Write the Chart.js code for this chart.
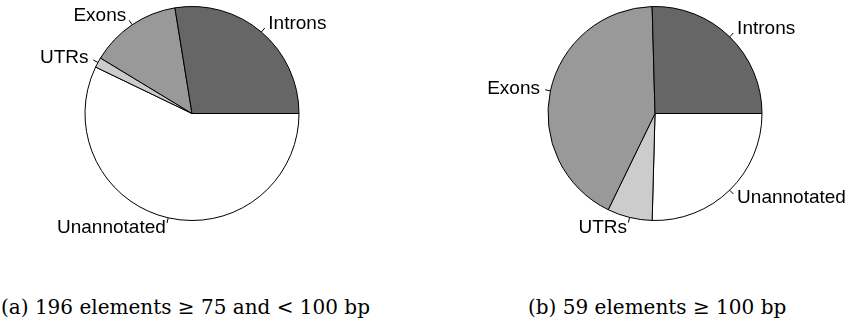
<!DOCTYPE html>
<html>
<head>
<meta charset="utf-8">
<script src="https://cdn.jsdelivr.net/npm/chart.js@4"></script>
<style>
  html, body { margin: 0; padding: 0; background: #fff; }
  body { position: relative; width: 848px; height: 324px; overflow: hidden; }
  canvas { position: absolute; top: 0; }
  #pie-a { left: 0; }
  #pie-b { left: 463px; }
  .caption {
    position: absolute;
    top: 294px;
    font-family: "DejaVu Serif", serif;
    font-size: 20px;
    line-height: 26px;
    white-space: nowrap;
    color: #000;
  }
  #cap-a { left: 1px; }
  #cap-b { left: 528px; }
</style>
</head>
<body>
<canvas id="pie-a" width="384" height="262"></canvas>
<canvas id="pie-b" width="384" height="262"></canvas>
<div class="caption" id="cap-a">(a) 196 elements ≥ 75 and &lt; 100 bp</div>
<div class="caption" id="cap-b">(b) 59 elements ≥ 100 bp</div>
<script>
// element classes, counter-clockwise from 3 o'clock
const categories = ["Introns", "Exons", "UTRs", "Unannotated"];
const sliceColors = ["#666666", "#999999", "#cccccc", "#ffffff"];

// element counts per class
const countsShort = [54, 27, 3, 112]; // 196 elements >= 75 and < 100 bp
const countsLong = [15, 25, 4, 15]; // 59 elements >= 100 bp

// labels outside each slice with a small tick, like R's pie()
const pieLabels = {
  id: "pieLabels",
  afterDatasetsDraw(chart) {
    const ctx = chart.ctx;
    const arcs = chart.getDatasetMeta(0).data;
    ctx.save();
    ctx.font = '19px "Liberation Sans", Arial, sans-serif';
    ctx.fillStyle = "#000";
    ctx.strokeStyle = "#000";
    ctx.lineWidth = 1;
    ctx.textBaseline = "middle";
    arcs.forEach((arc, i) => {
      const { x, y, startAngle, endAngle, outerRadius } = arc.getProps(
        ["x", "y", "startAngle", "endAngle", "outerRadius"],
        true
      );
      const mid = (startAngle + endAngle) / 2;
      const cos = Math.cos(mid);
      const sin = Math.sin(mid);
      ctx.beginPath();
      ctx.moveTo(x + outerRadius * cos, y + outerRadius * sin);
      ctx.lineTo(x + outerRadius * 1.05 * cos, y + outerRadius * 1.05 * sin);
      ctx.stroke();
      ctx.textAlign = cos >= 0 ? "left" : "right";
      ctx.fillText(
        chart.data.labels[i],
        x + outerRadius * 1.1 * cos,
        y + outerRadius * 1.1 * sin
      );
    });
    ctx.restore();
  },
};

function pieConfig(counts) {
  // Chart.js goes clockwise, so feed the slices in reverse
  return {
    type: "pie",
    data: {
      labels: categories.slice().reverse(),
      datasets: [
        {
          data: counts.slice().reverse(),
          backgroundColor: sliceColors.slice().reverse(),
          borderColor: "#000",
          borderWidth: 1,
        },
      ],
    },
    options: {
      responsive: false,
      animation: false,
      devicePixelRatio: 1,
      rotation: 90,
      radius: 107,
      // room under the pie for the bottom labels
      layout: { padding: { bottom: 35 } },
      plugins: {
        legend: { display: false },
        tooltip: { enabled: false },
      },
    },
    plugins: [pieLabels],
  };
}

new Chart(document.getElementById("pie-a").getContext("2d"), pieConfig(countsShort));
new Chart(document.getElementById("pie-b").getContext("2d"), pieConfig(countsLong));
</script>
</body>
</html>
